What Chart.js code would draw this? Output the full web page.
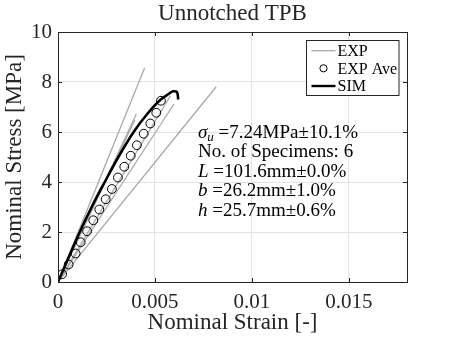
<!DOCTYPE html>
<html>
<head>
<meta charset="utf-8">
<script src="https://cdn.jsdelivr.net/npm/chart.js@4/dist/chart.umd.min.js"></script>
<style>
html,body{margin:0;padding:0;background:#fff;}
#wrap{width:450px;height:338px;}
</style>
</head>
<body>
<div id="wrap"><canvas id="c" width="450" height="338"></canvas></div>
<script>
// ---- data ----
const titleText = "Unnotched TPB";
const xTitle = "Nominal Strain [-]";
const yTitle = "Nominal Stress [MPa]";
const xTicks = [0, 0.005, 0.01, 0.015];
const yTicks = [0, 2, 4, 6, 8, 10];

// individual experiments (start and end of each test line)
const expStrainEnd = [0.00447, 0.00404, 0.00396, 0.00598, 0.00816, 0.00580];
const expStressEnd = [8.57, 6.72, 6.48, 7.12, 7.81, 7.45];

// experimental average
const aveStrain = [0.00021,0.00055,0.00091,0.00117,0.00150,0.00182,0.00213,0.00246,0.00278,0.00309,0.00342,0.00375,0.00407,0.00442,0.00476,0.00507,0.00531];
const aveStress = [0.31,0.70,1.14,1.59,2.03,2.47,2.90,3.31,3.72,4.18,4.61,5.05,5.47,5.93,6.34,6.77,7.25];

// simulation
const simStrain = [0,0.0006,0.00112,0.0018,0.00241,0.0031,0.0039,0.0046,0.0053,0.0057,0.00595,0.0061,0.00617,0.0062];
const simStress = [0,1.08,2.0,3.1,4.0,4.98,6.0,6.72,7.3,7.52,7.63,7.62,7.52,7.3];

const legendLabels = ["EXP", "EXP Ave", "SIM"];
const noteLines = [
  {sym:"σ", sub:"u", rest:" =7.24MPa±10.1%"},
  {sym:"", sub:"", rest:"No. of Specimens: 6"},
  {sym:"L", sub:"", rest:" =101.6mm±0.0%"},
  {sym:"b", sub:"", rest:" =26.2mm±1.0%"},
  {sym:"h", sub:"", rest:" =25.7mm±0.6%"}
];

// ---- styles ----
const SERIF = "'Liberation Serif','DejaVu Serif',serif";
const AX = "#262626";
const GRID = "#e3e3e3";
const EXPC = "#a9a9a9";

const datasets = [];
for (let i = 0; i < expStrainEnd.length; i++) {
  datasets.push({
    label: "EXP", order: 2,
    data: [{x:0,y:0},{x:expStrainEnd[i], y:expStressEnd[i]}],
    borderColor: EXPC, borderWidth: 1.3, pointRadius: 0, showLine: true, fill:false
  });
}
datasets.push({
  label: "EXP Ave", order: 1,
  data: aveStrain.map((v,i)=>({x:v, y:aveStress[i]})),
  showLine: false, pointRadius: 4.4, pointBorderWidth: 1,
  pointBorderColor: "#000", pointBackgroundColor: "rgba(0,0,0,0)"
});
datasets.push({
  label: "SIM", order: 0,
  data: simStrain.map((v,i)=>({x:v, y:simStress[i]})),
  showLine: true, borderColor: "#000", borderWidth: 2.6, pointRadius: 0,
  cubicInterpolationMode: 'monotone', fill:false
});

const decor = {
  id: 'decor',
  afterDraw(chart) {
    const ctx = chart.ctx, a = chart.chartArea;
    const xs = chart.scales.x, ys = chart.scales.y;
    ctx.save();
    // box
    ctx.strokeStyle = AX; ctx.lineWidth = 1;
    ctx.strokeRect(Math.round(a.left)+0.5, Math.round(a.top)+0.5, Math.round(a.right-a.left), Math.round(a.bottom-a.top));
    // inward ticks
    const tl = 4;
    ctx.beginPath();
    xTicks.forEach(v => {
      const px = Math.round(xs.getPixelForValue(v))+0.5;
      ctx.moveTo(px, a.bottom); ctx.lineTo(px, a.bottom - tl);
      ctx.moveTo(px, a.top); ctx.lineTo(px, a.top + tl);
    });
    yTicks.forEach(v => {
      const py = Math.round(ys.getPixelForValue(v))+0.5;
      ctx.moveTo(a.left, py); ctx.lineTo(a.left + tl, py);
      ctx.moveTo(a.right, py); ctx.lineTo(a.right - tl, py);
    });
    ctx.stroke();

    // title
    ctx.fillStyle = AX;
    ctx.font = "23px " + SERIF;
    ctx.textAlign = "center"; ctx.textBaseline = "middle";
    ctx.fillText(titleText, (a.left + a.right)/2, 14);

    // legend
    const lx = 306.5, ly = 40.5, lw = 92.5, lh = 55;
    ctx.fillStyle = "#fff";
    ctx.fillRect(lx, ly, lw, lh);
    ctx.strokeStyle = AX; ctx.lineWidth = 1;
    ctx.strokeRect(lx, ly, lw, lh);
    const rows = [50.7, 68.3, 86];
    ctx.font = "16px " + SERIF;
    ctx.textAlign = "left"; ctx.textBaseline = "middle";
    rows.forEach((ry, i) => {
      if (i === 0) {
        ctx.strokeStyle = EXPC; ctx.lineWidth = 1.3;
        ctx.beginPath(); ctx.moveTo(311.5, ry); ctx.lineTo(335.5, ry); ctx.stroke();
      } else if (i === 1) {
        ctx.strokeStyle = "#000"; ctx.lineWidth = 1;
        ctx.beginPath(); ctx.arc(323.5, ry, 3.6, 0, Math.PI*2); ctx.stroke();
      } else {
        ctx.strokeStyle = "#000"; ctx.lineWidth = 2.4;
        ctx.beginPath(); ctx.moveTo(311.5, ry); ctx.lineTo(335.5, ry); ctx.stroke();
      }
      ctx.fillStyle = "#000";
      ctx.fillText(legendLabels[i], 337.5, ry + 1);
    });

    // annotation
    const tx = 198, baselines = [137.5, 157, 176.5, 196, 215.5];
    ctx.textBaseline = "alphabetic";
    ctx.fillStyle = "#000";
    noteLines.forEach((ln, i) => {
      let x = tx;
      if (ln.sym) {
        ctx.font = "italic 19px " + SERIF;
        ctx.fillText(ln.sym, x, baselines[i]);
        x += ctx.measureText(ln.sym).width;
      }
      if (ln.sub) {
        ctx.font = "italic 13px " + SERIF;
        ctx.fillText(ln.sub, x, baselines[i] + 3);
        x += ctx.measureText(ln.sub).width;
      }
      ctx.font = "19px " + SERIF;
      ctx.fillText(ln.rest, x, baselines[i]);
    });
    ctx.restore();
  }
};

new Chart(document.getElementById('c'), {
  type: 'scatter',
  data: { datasets },
  options: {
    responsive: false, animation: false, devicePixelRatio: 1,
    layout: { padding: { top: 32, right: 43, left: 0, bottom: 0 } },
    plugins: { legend: { display: false }, tooltip: { enabled: false }, title: { display: false } },
    scales: {
      x: {
        type: 'linear', min: 0, max: 0.018,
        afterBuildTicks: s => { s.ticks = xTicks.map(v => ({value: v})); },
        afterFit: s => { s.height = 56; },
        grid: { color: GRID, drawTicks: false, lineWidth: 1 },
        border: { display: false },
        ticks: {
          color: AX, padding: 8,
          font: { family: SERIF, size: 21 },
          callback: v => String(Number(v.toFixed(4)))
        },
        title: { display: true, text: xTitle, color: AX, font: { family: SERIF, size: 23 }, padding: { top: 0, bottom: 1 } }
      },
      y: {
        type: 'linear', min: 0, max: 10,
        afterBuildTicks: s => { s.ticks = yTicks.map(v => ({value: v})); },
        afterFit: s => { s.width = 58; },
        grid: { color: GRID, drawTicks: false, lineWidth: 1 },
        border: { display: false },
        ticks: { color: AX, padding: 6, font: { family: SERIF, size: 21 } },
        title: { display: true, text: yTitle, color: AX, font: { family: SERIF, size: 23 }, padding: { top: 1, bottom: 0 } }
      }
    }
  },
  plugins: [decor]
});
</script>
</body>
</html>
